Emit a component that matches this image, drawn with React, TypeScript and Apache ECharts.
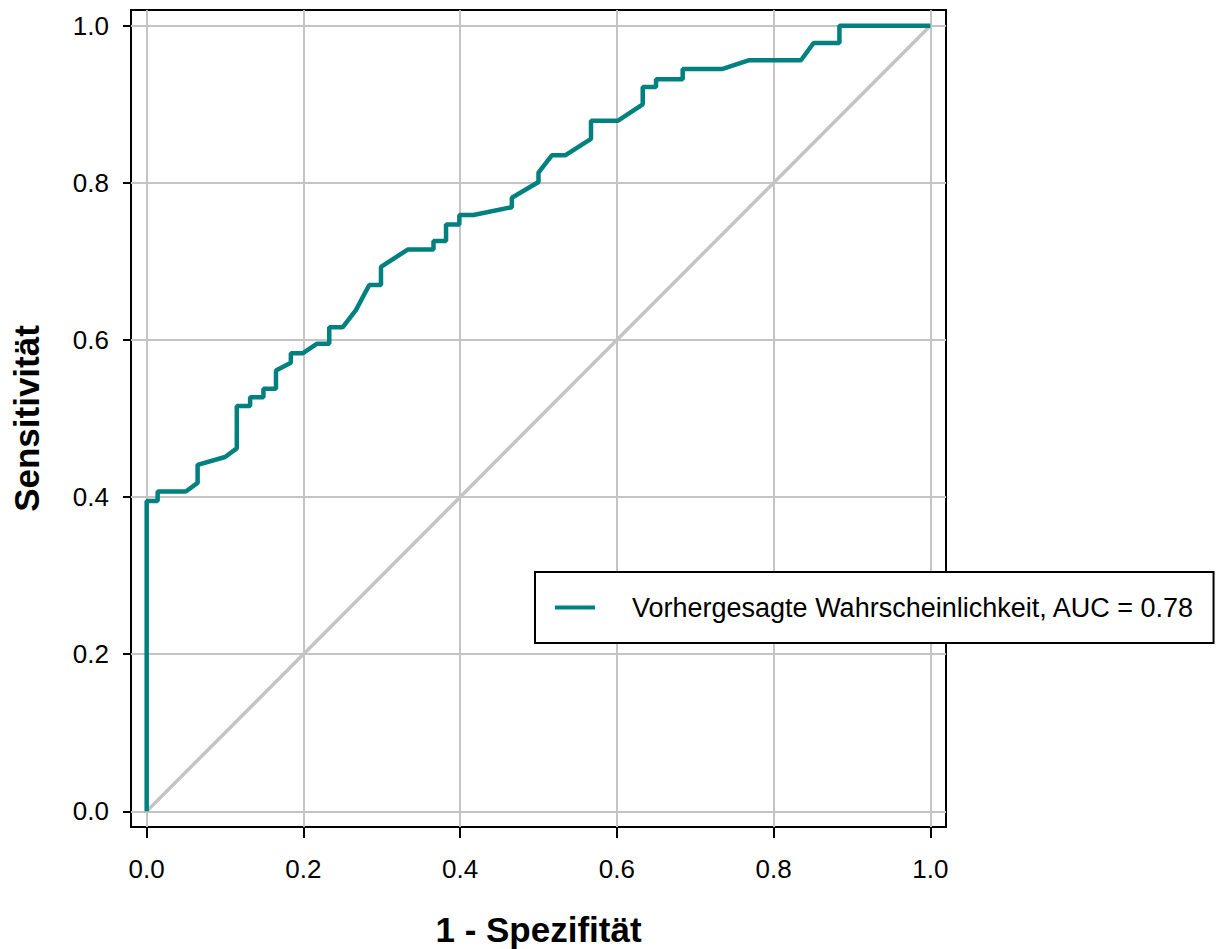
import React, { useEffect, useRef } from "react";
import * as echarts from "echarts";

// ROC curve: false-positive rate (1 - Spezifität) vs. true-positive rate (Sensitivität)
const fpr = [
  0, 0, 0.014, 0.014, 0.05, 0.065, 0.065, 0.1, 0.115, 0.115, 0.132, 0.132,
  0.149, 0.149, 0.165, 0.165, 0.184, 0.184, 0.199, 0.217, 0.233, 0.233,
  0.25, 0.267, 0.284, 0.299, 0.299, 0.333, 0.366, 0.366, 0.382, 0.382,
  0.399, 0.399, 0.417, 0.466, 0.466, 0.5, 0.5, 0.517, 0.534, 0.567, 0.567,
  0.601, 0.633, 0.633, 0.65, 0.65, 0.684, 0.684, 0.735, 0.768, 0.835,
  0.851, 0.884, 0.884, 1,
];
const tpr = [
  0, 0.395, 0.395, 0.407, 0.407, 0.418, 0.441, 0.451, 0.462, 0.516, 0.516,
  0.527, 0.527, 0.538, 0.538, 0.561, 0.571, 0.583, 0.583, 0.595, 0.595,
  0.616, 0.616, 0.638, 0.67, 0.67, 0.693, 0.715, 0.715, 0.726, 0.726,
  0.747, 0.747, 0.759, 0.759, 0.769, 0.781, 0.801, 0.813, 0.835, 0.835,
  0.856, 0.879, 0.879, 0.9, 0.922, 0.922, 0.932, 0.932, 0.945, 0.945,
  0.956, 0.956, 0.978, 0.978, 1, 1,
];

// Reference (chance) diagonal
const diagX = [0, 1];
const diagY = [0, 1];

const tickValues = [0, 0.2, 0.4, 0.6, 0.8, 1.0];
const seriesName = "Vorhergesagte Wahrscheinlichkeit, AUC = 0.78";
const xTitle = "1 - Spezifität";
const yTitle = "Sensitivität";

const FONT = "'Liberation Sans', Arial, sans-serif";
const TEAL = "#00807f";
const GRID_GRAY = "#c4c4c4";

export default function App() {
  const ref = useRef<HTMLDivElement>(null);

  useEffect(() => {
    if (!ref.current) return;
    const chart = echarts.init(ref.current, null, { renderer: "svg" });

    const gridLines = [
      ...tickValues.map((v) => ({ xAxis: v })),
      ...tickValues.map((v) => ({ yAxis: v })),
    ];

    chart.setOption({
      animation: false,
      backgroundColor: "#ffffff",
      textStyle: { fontFamily: FONT },
      grid: {
        left: 131,
        top: 10,
        right: 273,
        bottom: 122,
        containLabel: false,
        outerBoundsMode: "none",
        show: true,
        borderColor: "#000",
        borderWidth: 2,
        backgroundColor: "transparent",
      },
      legend: {
        data: [seriesName],
        left: 535,
        top: 572,
        orient: "horizontal",
        backgroundColor: "#ffffff",
        borderColor: "#000",
        borderWidth: 2,
        borderRadius: 0,
        padding: [22, 19, 22, 20],
        icon: "rect",
        itemWidth: 40,
        itemHeight: 4,
        itemStyle: { color: TEAL },
        textStyle: {
          fontFamily: FONT,
          fontSize: 27,
          color: "#000",
          padding: [0, 0, 0, 32],
        },
        z: 20,
      },
      xAxis: {
        type: "value",
        min: -0.02,
        max: 1.02,
        name: xTitle,
        nameLocation: "middle",
        nameGap: 85,
        nameTextStyle: {
          fontFamily: FONT,
          fontSize: 35,
          fontWeight: "bold",
          color: "#000",
        },
        axisLine: { show: true, onZero: false, lineStyle: { color: "#000", width: 2 } },
        axisTick: {
          show: true,
          inside: false,
          length: 11,
          customValues: tickValues,
          lineStyle: { color: "#000", width: 2 },
        },
        axisLabel: {
          customValues: tickValues,
          formatter: (v: number) => v.toFixed(1),
          fontFamily: FONT,
          fontSize: 26,
          color: "#000",
          margin: 29,
        },
        splitLine: { show: false },
      },
      yAxis: {
        type: "value",
        min: -0.02,
        max: 1.02,
        name: yTitle,
        nameLocation: "middle",
        nameGap: 87,
        nameRotate: 90,
        nameTextStyle: {
          fontFamily: FONT,
          fontSize: 35,
          fontWeight: "bold",
          color: "#000",
        },
        axisLine: { show: true, onZero: false, lineStyle: { color: "#000", width: 2 } },
        axisTick: {
          show: true,
          inside: false,
          length: 8,
          customValues: tickValues,
          lineStyle: { color: "#000", width: 2 },
        },
        axisLabel: {
          customValues: tickValues,
          formatter: (v: number) => v.toFixed(1),
          fontFamily: FONT,
          fontSize: 26,
          color: "#000",
          margin: 22,
        },
        splitLine: { show: false },
      },
      series: [
        {
          name: "grid",
          type: "line",
          data: [],
          silent: true,
          z: 1,
          markLine: {
            silent: true,
            z: 1,
            symbol: ["none", "none"],
            label: { show: false },
            lineStyle: { color: GRID_GRAY, width: 2, type: "solid" },
            emphasis: { disabled: true },
            data: gridLines,
          },
        },
        {
          name: "diagonal",
          type: "line",
          data: diagX.map((x, i) => [x, diagY[i]]),
          symbol: "none",
          silent: true,
          z: 4,
          lineStyle: { color: GRID_GRAY, width: 3.5 },
        },
        {
          name: seriesName,
          type: "line",
          data: fpr.map((x, i) => [x, tpr[i]]),
          symbol: "none",
          z: 8,
          color: TEAL,
          lineStyle: { color: TEAL, width: 4.5 },
        },
      ],
    });

    return () => chart.dispose();
  }, []);

  return (
    <div
      ref={ref}
      style={{ position: "fixed", left: 0, top: 0, width: 1219, height: 949 }}
    />
  );
}
